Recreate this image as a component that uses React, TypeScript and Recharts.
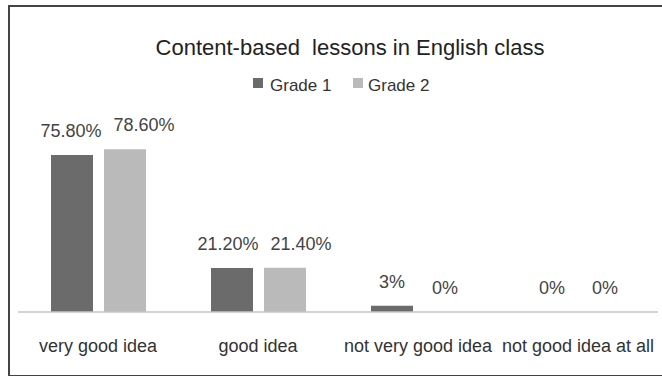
import { Bar, BarChart, LabelList, XAxis, YAxis } from "recharts";

const categories = ["very good idea", "good idea", "not very good idea", "not good idea at all"];
const grade1 = [75.8, 21.2, 3, 0];
const grade2 = [78.6, 21.4, 0, 0];
const grade1Labels = ["75.80%", "21.20%", "3%", "0%"];
const grade2Labels = ["78.60%", "21.40%", "0%", "0%"];

const data = categories.map((name, i) => ({
  name,
  g1: grade1[i],
  g2: grade2[i],
  l1: grade1Labels[i],
  l2: grade2Labels[i],
}));

const font = "'Liberation Sans', Arial, sans-serif";
const DARK = "#6b6b6b";
const LIGHT = "#bababa";

// the labels of the tall bars are pushed apart so they don't collide
const nudge1 = [-1, -4, 0, 0];
const nudge2 = [19, 16, 0, 0];

const makeLabel = (nudge: number[]) => (props: any) => {
  const { x, y, width, value, index } = props;
  return (
    <text
      x={Number(x) + Number(width) / 2 + (nudge[index] || 0)}
      y={Number(y) - 18}
      textAnchor="middle"
      fill="#444"
      fontSize={18}
      fontFamily={font}
    >
      {value}
    </text>
  );
};

// zero bars still need a rect so their "0%" label is drawn
const tinyForZero = (v: number) => (v === 0 ? 0.01 : 0);

export default function App() {
  return (
    <div style={{ position: "absolute", left: 0, top: 0, width: 662, height: 376, background: "#fff", fontFamily: font }}>
      <div
        style={{
          position: "absolute",
          left: 8,
          top: 5,
          width: 700,
          height: 368,
          borderLeft: "2px solid #444",
          borderTop: "2px solid #444",
          borderBottom: "2px solid #444",
        }}
      />
      <div
        style={{
          position: "absolute",
          left: 0,
          top: 37,
          width: 700,
          textAlign: "center",
          fontSize: 22,
          lineHeight: "22px",
          color: "#222",
        }}
      >
        Content-based&nbsp; lessons in English class
      </div>
      <div style={{ position: "absolute", left: 253, top: 78, width: 10, height: 10, background: DARK }} />
      <div style={{ position: "absolute", left: 270, top: 77, fontSize: 17, lineHeight: "17px", color: "#333" }}>Grade 1</div>
      <div style={{ position: "absolute", left: 353, top: 78, width: 10, height: 10, background: LIGHT }} />
      <div style={{ position: "absolute", left: 368, top: 77, fontSize: 17, lineHeight: "17px", color: "#333" }}>Grade 2</div>

      <BarChart
        width={662}
        height={376}
        data={data}
        margin={{ top: 105, right: 4, bottom: 34, left: 18 }}
        barSize={42}
        barGap={11}
        style={{ position: "absolute", left: 0, top: 0 }}
      >
        <XAxis
          dataKey="name"
          height={30}
          tickLine={false}
          tickSize={0}
          tickMargin={27}
          axisLine={{ stroke: "#c4c4c4", strokeWidth: 1.5 }}
          tick={{ fill: "#333", fontSize: 18, fontFamily: font }}
          interval={0}
        />
        <YAxis hide domain={[0, 100]} />
        <Bar dataKey="g1" fill={DARK} minPointSize={tinyForZero as any} isAnimationActive={false}>
          <LabelList dataKey="l1" content={makeLabel(nudge1)} />
        </Bar>
        <Bar dataKey="g2" fill={LIGHT} minPointSize={tinyForZero as any} isAnimationActive={false}>
          <LabelList dataKey="l2" content={makeLabel(nudge2)} />
        </Bar>
      </BarChart>
    </div>
  );
}
